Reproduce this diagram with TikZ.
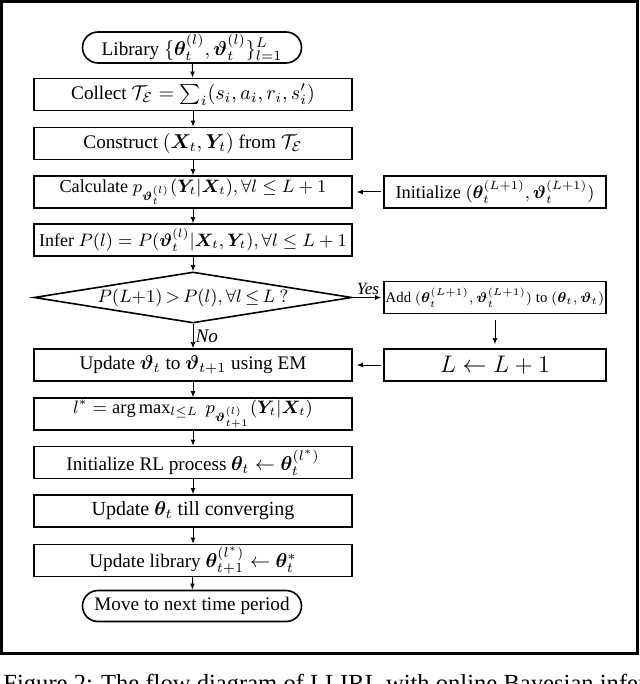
\documentclass[tikz,border=0pt]{standalone}
\usepackage{amsmath}
\usepackage{fontspec}
\setmainfont{Liberation Serif}
\usepackage{bm}
\usetikzlibrary{arrows.meta,shapes.misc,shapes.geometric}
\begin{document}
\begin{tikzpicture}[x=0.5pt,y=-0.5pt,
  txt/.style={font=\fontsize{9.6}{11}\selectfont},
  box/.style={txt, draw, line width=0.8pt, rectangle, minimum width=159pt, minimum height=16pt, inner sep=0.5pt},
  rbox/.style={box, minimum width=111pt},
  term/.style={txt, draw, line width=0.8pt, rounded rectangle, minimum width=111.5pt, minimum height=15.5pt, inner sep=1pt},
  arr/.style={-{Latex[length=3pt,width=2.4pt]}, line width=0.5pt},
  lab/.style={font=\fontsize{8.6}{10}\selectfont\itshape, inner sep=1pt}
]
\useasboundingbox (0,0) rectangle (640,684);
\clip (0,0) rectangle (640,684);
\draw[line width=1.5pt] (1.5,1.5) rectangle (637.5,653.5);

% left column
\node[term] (lib) at (192,47.5) {Library $\{\bm\theta_t^{(l)},\bm\vartheta_t^{(l)}\}_{l=1}^{L}$};
\node[box] (col) at (193,94.5) {Collect $\mathcal{T}_{\mathcal{E}}=\sum_i(s_i,a_i,r_i,s'_i)$};
\node[box] (con) at (193,143.5) {Construct $(\bm X_t,\bm Y_t)$ from $\mathcal{T}_{\mathcal{E}}$};
\node[box, font=\fontsize{9.1}{11}\selectfont] (cal) at (193,192) {Calculate $p_{\bm\vartheta_t^{(l)}}(\bm Y_t|\bm X_t),\forall l\le L+1$};
\node[box, font=\fontsize{9}{11}\selectfont] (inf) at (193,240) {Infer $P(l)=P(\bm\vartheta_t^{(l)}|\bm X_t,\bm Y_t),\forall l\le L+1$};
\node[txt, draw, diamond, aspect=6.2, minimum width=159pt, minimum height=25.5pt, inner sep=0pt, line width=0.8pt] (dec) at (193,297.5) {\makebox[0pt]{\fontsize{9.2}{11}\selectfont$P(L{+}1)\,{>}\,P(l),\forall l\,{\le}\,L\ ?$}};
\node[box] (upd) at (193,365) {Update $\bm\vartheta_t$ to $\bm\vartheta_{t+1}$ using EM};
\node[box, font=\fontsize{9.2}{11}\selectfont] (lst) at (193,414) {$l^*=\arg\max_{l\le L}\ p_{\bm\vartheta_{t+1}^{(l)}}(\bm Y_t|\bm X_t)$};
\node[box] (irl) at (193,462.5) {Initialize RL process $\bm\theta_t\leftarrow\bm\theta_t^{(l^*)}$};
\node[box, font=\fontsize{10}{12}\selectfont] (uth) at (193,511) {Update $\bm\theta_t$ till converging};
\node[box] (ulib) at (193,560.5) {Update library $\bm\theta_{t+1}^{(l^*)}\leftarrow\bm\theta_t^*$};
\node[term] (mov) at (192,606) {Move to next time period};

% right column
\node[rbox, font=\fontsize{9.2}{11}\selectfont] (ini) at (495,192) {Initialize $(\bm\theta_t^{(L+1)},\bm\vartheta_t^{(L+1)})$};
\node[rbox, font=\fontsize{7.4}{9}\selectfont] (add) at (495,297.5) {Add $(\bm\theta_t^{(L+1)},\bm\vartheta_t^{(L+1)})$ to $(\bm\theta_t,\bm\vartheta_t)$};
\node[rbox, font=\fontsize{11.5}{13}\selectfont] (inc) at (495,365) {$L\leftarrow L+1$};

% connectors
\draw[arr] (lib) -- (col);
\draw[arr] (col) -- (con);
\draw[arr] (con) -- (cal);
\draw[arr] (cal) -- (inf);
\draw[arr] (inf) -- (dec);
\draw[arr] (dec.south) -- node[lab, right, font=\fontsize{9.6}{11}\selectfont\itshape] {No} (upd.north);
\draw[arr] (upd) -- (lst);
\draw[arr] (lst) -- (irl);
\draw[arr] (irl) -- (uth);
\draw[arr] (uth) -- (ulib);
\draw[arr] (ulib) -- (mov);
\draw[arr, shorten <=1pt, shorten >=1pt] (dec.east) -- node[lab, above] {Yes} (add.west);
\draw[arr, shorten <=1pt, shorten >=2pt] (ini) -- (cal);
\draw[arr, shorten <=3pt, shorten >=2pt] (add) -- (inc);
\draw[arr, shorten <=1pt, shorten >=2pt] (inc) -- (upd);

% caption (cut off by the image edge)
\node[anchor=base west, inner sep=0pt, font=\fontsize{12.3}{14}\selectfont] (cap) at (3,691) {Figure 2: The flow diagram of LLIRL with online Bayesian inference};
\end{tikzpicture}
\end{document}
